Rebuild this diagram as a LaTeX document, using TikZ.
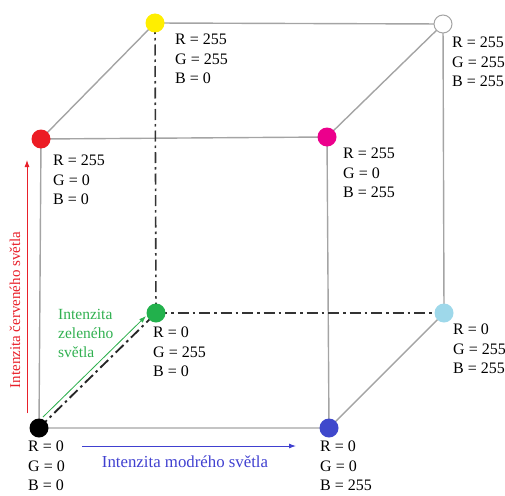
\documentclass[tikz,border=0pt]{standalone}
\usepackage{fontspec}
\setmainfont{Liberation Serif}
\usetikzlibrary{arrows.meta,backgrounds}
\definecolor{cred}{HTML}{EC1C24}
\definecolor{cyel}{HTML}{FFEE00}
\definecolor{cmag}{HTML}{EC008C}
\definecolor{cgrn}{HTML}{22B14C}
\definecolor{ccya}{HTML}{9ED8EA}
\definecolor{cblu}{HTML}{3F48CC}
\definecolor{cedge}{HTML}{A4A4A4}
\definecolor{cdash}{HTML}{333333}
\definecolor{tred}{HTML}{E8202A}
\definecolor{tblu}{HTML}{4040D0}
\definecolor{tgrn}{HTML}{30B050}
\tikzset{
  dot/.style={circle,minimum size=19pt,inner sep=0pt,fill=#1},
  lab/.style={anchor=north west,inner sep=0pt,align=left,font=\fontsize{16}{19.5}\selectfont},
  edge/.style={draw=cedge,line width=1.4pt},
  hidden/.style={draw=cdash,line width=1.6pt,dash pattern=on 11pt off 4pt on 2.5pt off 4pt},
  axisarrow/.style={line width=0.9pt,-{Latex[length=7pt,width=5pt]}},
}
\begin{document}
\begin{tikzpicture}[x=1pt,y=-1pt]
\useasboundingbox (0,0) rectangle (505,495);
% vertices
\node[dot=black] (k) at (39,428) {};
\node[dot=cblu] (b) at (329,428) {};
\node[dot=cred] (r) at (41,139) {};
\node[dot=cmag] (m) at (327,137) {};
\node[dot=cyel] (y) at (155,23) {};
\node[dot=white,draw=cedge,line width=1pt,minimum size=18pt] (w) at (443,24) {};
\node[dot=cgrn] (g) at (156,313) {};
\node[dot=ccya] (c) at (444,313) {};
% edges
\begin{pgfonlayer}{background}
\draw[edge] (k.center) -- (b.center) -- (m.center) -- (r.center) -- (k.center);
\draw[edge] (y.center) -- (w.center) -- (c.center);
\draw[edge] (r.center) -- (y.center);
\draw[edge] (m.center) -- (w.center);
\draw[edge] (b.center) -- (c.center);
\draw[hidden,line width=1.9pt,draw=black!85] (k.center) -- (g.center);
\draw[hidden] (y.center) -- (g.center);
\draw[hidden] (g.center) -- (c.center);
\end{pgfonlayer}
% labels
\node[lab] (lk) at (28,441) {R = 0\\G = 0\\B = 0};
\node[lab] (lb) at (320,441) {R = 0\\G = 0\\B = 255};
\node[lab] (lg) at (153,327) {R = 0\\G = 255\\B = 0};
\node[lab] (lr) at (53,155) {R = 255\\G = 0\\B = 0};
\node[lab] (lm) at (343,148) {R = 255\\G = 0\\B = 255};
\node[lab] (ly) at (175,34) {R = 255\\G = 255\\B = 0};
\node[lab] (lw) at (452,37) {R = 255\\G = 255\\B = 255};
\node[lab] (lc) at (453,324) {R = 0\\G = 255\\B = 255};
% axis arrows
\coordinate (ra) at (27,413);
\coordinate (rb) at (27,160);
\draw[axisarrow,draw=tred,fill=tred] (ra) -- (rb);
\node[rotate=90,text=tred,font=\fontsize{15}{18}\selectfont,inner sep=0pt] (rt) at (15,310) {Intenzita červeného světla};
\coordinate (ba) at (82,446);
\coordinate (bb) at (296,446);
\draw[axisarrow,draw=tblu,fill=tblu] (ba) -- (bb);
\node[text=tblu,font=\fontsize{16.8}{18}\selectfont,inner sep=0pt] (bt) at (185,462) {Intenzita modrého světla};
\coordinate (ga) at (43,417);
\coordinate (gb) at (146,316);
\draw[axisarrow,draw=tgrn,fill=tgrn,line width=0.8pt] (ga) -- (gb);
\node[lab,text=tgrn,font=\fontsize{15.5}{19}\selectfont] (gt) at (58,309) {Intenzita\\zeleného\\světla};
\end{tikzpicture}
\end{document}
